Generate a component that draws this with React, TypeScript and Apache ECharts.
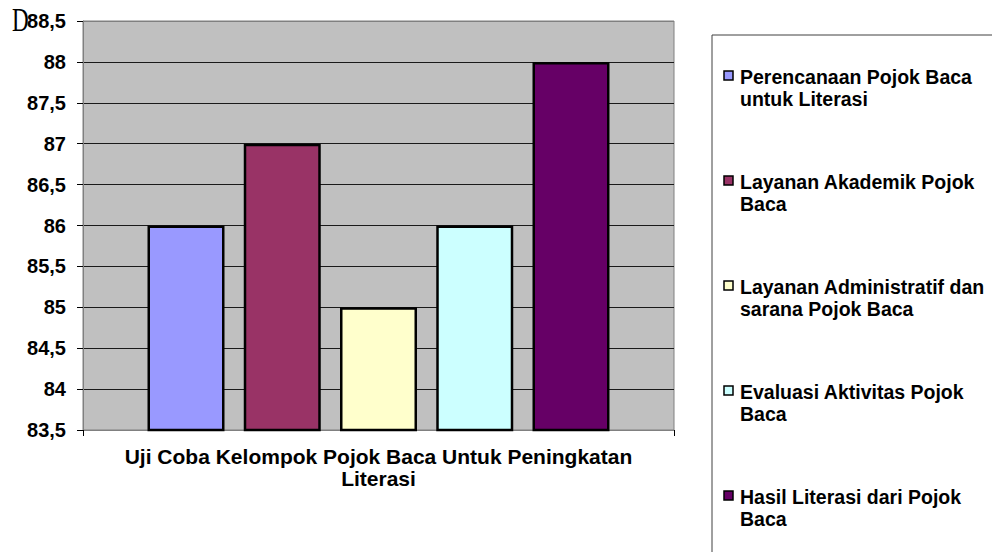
import React, { useEffect, useRef } from "react";
import * as echarts from "echarts";

const categories = ["Uji Coba Kelompok Pojok Baca Untuk Peningkatan\nLiterasi"];
const seriesNames = [
  "Perencanaan Pojok Baca untuk Literasi",
  "Layanan Akademik Pojok Baca",
  "Layanan Administratif dan sarana Pojok Baca",
  "Evaluasi Aktivitas Pojok Baca",
  "Hasil Literasi dari Pojok Baca",
];
const legendLabels = [
  "Perencanaan Pojok Baca\nuntuk Literasi",
  "Layanan Akademik Pojok\nBaca",
  "Layanan Administratif dan\nsarana Pojok Baca",
  "Evaluasi Aktivitas Pojok\nBaca",
  "Hasil Literasi dari Pojok\nBaca",
];
const seriesValues = [86, 87, 85, 86, 88];
const seriesColors = ["#9999FF", "#993366", "#FFFFCC", "#CCFFFF", "#660066"];
const yMin = 83.5;
const yMax = 88.5;
const yStep = 0.5;

const FONT = "'Liberation Sans', Arial, Helvetica, sans-serif";

export default function App() {
  const ref = useRef<HTMLDivElement>(null);
  useEffect(() => {
    document.body.style.margin = "0";
    const chart = echarts.init(ref.current!, null, { renderer: "svg" });
    const splitColors: string[] = [];
    const nLines = Math.round((yMax - yMin) / yStep) + 1;
    for (let i = 0; i < nLines; i++) splitColors.push(i === nLines - 1 ? "#808080" : "#1a1a1a");

    const legendGraphics: any[] = [
      {
        type: "rect",
        shape: { x: 712, y: 35, width: 300, height: 560 },
        style: { fill: "#ffffff", stroke: "#404040", lineWidth: 1 },
        z: 0,
      },
    ];
    legendLabels.forEach((label, i) => {
      const top = 70 + 105 * i;
      legendGraphics.push({
        type: "rect",
        shape: { x: 724, y: top + 1, width: 9, height: 9 },
        style: { fill: seriesColors[i], stroke: "#000", lineWidth: 1.5 },
        z: 2,
      });
      legendGraphics.push({
        type: "text",
        x: 740,
        y: top - 4,
        style: {
          text: label,
          font: `bold 19.5px ${FONT}`,
          fill: "#000",
          lineHeight: 22,
          textVerticalAlign: "top",
        },
        z: 2,
      });
    });
    legendGraphics.push({
      type: "text",
      x: 12,
      y: 3,
      scaleX: 0.7,
      style: {
        text: "D",
        font: `33px 'Liberation Serif', 'Times New Roman', serif`,
        fill: "#000",
        textVerticalAlign: "top",
      },
      z: 3,
    });

    chart.setOption({
      animation: false,
      backgroundColor: "#ffffff",
      grid: {
        left: 83,
        top: 21,
        width: 591,
        height: 409,
        show: true,
        backgroundColor: "#C0C0C0",
        borderColor: "#808080",
        borderWidth: 1,
      },
      xAxis: {
        type: "category",
        data: categories,
        axisLine: { show: true, lineStyle: { color: "#808080", width: 1 } },
        axisTick: { show: true, length: 6, lineStyle: { color: "#000" } },
        axisLabel: {
          margin: 15,
          fontFamily: FONT,
          fontWeight: "bold",
          fontSize: 21,
          lineHeight: 22,
          color: "#000",
          align: "center",
        },
      },
      yAxis: {
        type: "value",
        min: yMin,
        max: yMax,
        interval: yStep,
        axisLine: { show: true, lineStyle: { color: "#808080", width: 1 } },
        axisTick: { show: true, length: 6, lineStyle: { color: "#000" } },
        axisLabel: {
          margin: 17,
          fontFamily: FONT,
          fontWeight: "bold",
          fontSize: 20,
          color: "#000",
          formatter: (v: number) => String(v).replace(".", ","),
        },
        splitLine: { show: true, lineStyle: { color: splitColors, width: 1 } },
      },
      series: seriesNames.map((name, i) => ({
        type: "bar",
        name,
        data: [seriesValues[i]],
        barWidth: 77,
        barGap: "25%",
        itemStyle: { color: seriesColors[i], borderColor: "#000", borderWidth: 2.5 },
      })),
      graphic: legendGraphics,
    });
    return () => chart.dispose();
  }, []);
  return <div ref={ref} style={{ width: 992, height: 552 }} />;
}
